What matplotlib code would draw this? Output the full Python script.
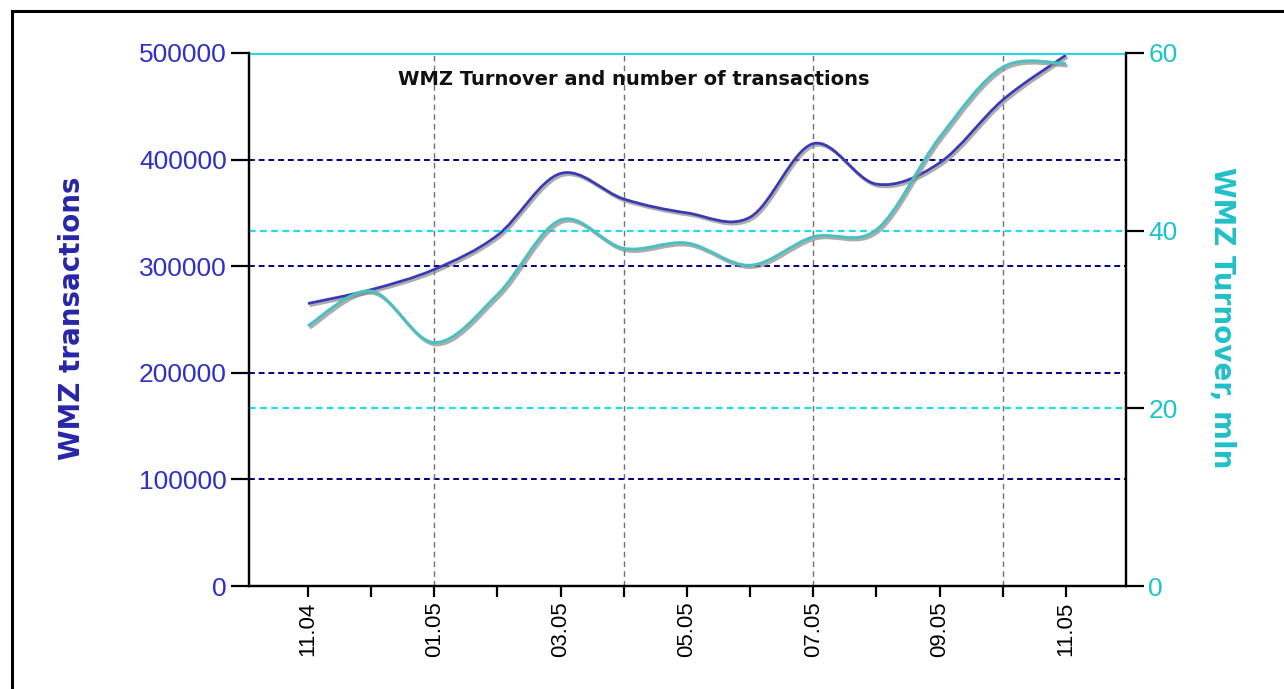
import matplotlib
matplotlib.use("Agg")
import matplotlib.pyplot as plt
import matplotlib.patheffects as pe
from matplotlib.path import Path
from matplotlib.patches import PathPatch
from matplotlib.lines import Line2D
import numpy as np

# data
months = ["11.04", "12.04", "01.05", "02.05", "03.05", "04.05", "05.05",
          "06.05", "07.05", "08.05", "09.05", "10.05", "11.05"]
transactions = [265000, 278000, 297000, 329000, 387000, 363000, 350000,
                346000, 415000, 377000, 397000, 456000, 498000]
turnover = [29.3, 33.2, 27.4, 32.8, 41.2, 38.0, 38.6,
            36.1, 39.3, 40.1, 50.5, 58.4, 58.8]

BLUE_LINE = "#3a3ab4"
TEAL_LINE = "#4cc0c0"
LEFT_TXT = "#3030c8"
RIGHT_TXT = "#1cc4c8"


def smooth_path(xs, ys):
    # catmull-rom through the points, drawn as cubic bezier segments
    pts = np.column_stack([xs, ys]).astype(float)
    ext = np.vstack([pts[0], pts, pts[-1]])
    verts = [pts[0]]
    codes = [Path.MOVETO]
    for i in range(1, len(ext) - 2):
        p0, p1, p2, p3 = ext[i - 1], ext[i], ext[i + 1], ext[i + 2]
        verts += [p1 + (p2 - p0) / 6, p2 - (p3 - p1) / 6, p2]
        codes += [Path.CURVE4] * 3
    return Path(verts, codes)


fig = plt.figure(figsize=(12.84, 6.89), dpi=100)
ax = fig.add_axes([249 / 1284, 1 - 586 / 689, 877 / 1284, 533 / 689])
ax2 = ax.twinx()

x = np.arange(len(months))
ax.set_xlim(-0.934, 12.95)
ax.set_ylim(0, 500000)
ax2.set_ylim(0, 60)

# grid
for v in [100000, 200000, 300000, 400000]:
    ax.axhline(v, color="#000080", lw=1.4, ls=(0, (3, 2)), zorder=1)
for v in [20, 40, 60]:
    ax2.axhline(v, color="#20dce8", lw=1.6 if v < 60 else 2.2, ls=(0, (3, 2)) if v < 60 else "-", zorder=1)
for i in [2, 5, 8, 11]:
    ax.axvline(x[i], color="#707070", lw=1, ls=(0, (4, 3)), zorder=1)

shadow = [pe.SimpleLineShadow(offset=(1.2, -1.6), shadow_color="#8a8a8a", alpha=0.7), pe.Normal()]
p1 = PathPatch(smooth_path(x, transactions), fill=False, edgecolor=BLUE_LINE, lw=2.0, zorder=3)
p1.set_path_effects(shadow)
ax.add_patch(p1)
p2 = PathPatch(smooth_path(x, turnover), fill=False, edgecolor=TEAL_LINE, lw=2.2, zorder=3)
p2.set_path_effects(shadow)
ax2.add_patch(p2)

# spines / ticks
for a in (ax, ax2):
    a.spines["top"].set_visible(False)
    for s in ["left", "right", "bottom"]:
        a.spines[s].set_linewidth(1.6)
ax.set_xticks(x)
ax.set_xticklabels([m if i % 2 == 0 else "" for i, m in enumerate(months)],
                   rotation=90, fontsize=16, family="Liberation Sans")
ax.tick_params(axis="x", length=8, width=1.6, pad=3)
ax.set_yticks([0, 100000, 200000, 300000, 400000, 500000])
ax.set_yticklabels(["0", "100000", "200000", "300000", "400000", "500000"],
                   fontsize=19, family="Liberation Sans", color=LEFT_TXT)
ax.tick_params(axis="y", length=13, width=1.6, pad=3)
ax2.set_yticks([0, 20, 40, 60])
ax2.set_yticklabels(["0", "20", "40", "60"], fontsize=19, family="Liberation Sans", color=RIGHT_TXT)
ax2.tick_params(axis="y", length=13, width=1.6, pad=3)

ax.text(0.439, 0.95, "WMZ Turnover and number of transactions", transform=ax.transAxes,
        ha="center", va="center", fontsize=14, fontweight="bold", color="#101010", zorder=5)

fig.text(72 / 1284, 1 - 318 / 689, "WMZ transactions", rotation=90, ha="center", va="center",
         fontsize=20, fontweight="bold", color="#2626a8")
fig.text(1222 / 1284, 1 - 318 / 689, "WMZ Turnover, mln", rotation=-90, ha="center", va="center",
         fontsize=20, fontweight="bold", color="#20c0c8")

# outer frame
fig.add_artist(Line2D([12 / 1284, 12 / 1284], [0, 1 - 11 / 689], color="black", lw=2.2))
fig.add_artist(Line2D([12 / 1284, 1], [1 - 11 / 689, 1 - 11 / 689], color="black", lw=2.2))

fig.savefig("out.png", dpi=100, facecolor="white")
